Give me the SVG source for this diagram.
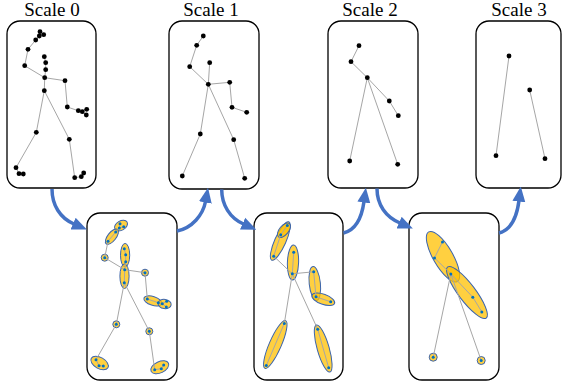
<svg xmlns="http://www.w3.org/2000/svg" xmlns:xlink="http://www.w3.org/1999/xlink" width="563" height="385" viewBox="0 0 563 385">
  <style>
    .frame { fill: #ffffff; stroke: #000000; stroke-width: 1.3; }
    .title { font-family: "Liberation Serif", "Times New Roman", serif; font-size: 19px; fill: #000000; text-anchor: middle; }
    .bone { fill: none; stroke: #a6a6a6; stroke-width: 1; stroke-linejoin: round; }
    .joint { fill: #000000; }
    .pt { fill: #0070c0; }
    .part { fill: #ffc000; fill-opacity: 0.75; stroke: #3b64ad; stroke-width: 1; }
    .flow { fill: none; stroke: #4472c4; stroke-width: 3.5; }
  </style>
  <defs>
    <marker id="ah" markerUnits="userSpaceOnUse" markerWidth="15" markerHeight="14" viewBox="0 0 15 13" refX="1" refY="6.5" orient="auto">
      <path d="M0,0 L15,6.5 L0,13 z" fill="#4472c4"/>
    </marker>
    <!-- skeleton bones, finest level -->
    <g id="bones0" class="bone">
      <polyline points="40,31.7 39.3,36"/>
      <polyline points="43.7,34.7 39.3,36 35.7,40 28,49.3 24.7,65.7 44.7,77.7 65,80.7 67.3,107 78.3,110.7 82.3,111.7 86.7,109.3"/>
      <polyline points="82.3,111.7 86.3,115"/>
      <polyline points="44.3,56.7 45.7,62.7 45.7,69.7 44.7,77.7 44.3,90.7"/>
      <polyline points="44.3,90.7 36.3,132.3 16,167.7 19,173.7 23.3,174"/>
      <polyline points="44.3,90.7 69.3,139.3 74.7,177.7 81.3,176.7 83.7,173"/>
    </g>
    <g id="bones1" class="bone">
      <polyline points="203.3,36 196.7,45.3 189.7,66.7 208.3,84.3"/>
      <polyline points="209.7,62.7 208.3,84.3"/>
      <polyline points="208.3,84.3 229.7,82.3 232,107.3 246.7,112.3"/>
      <polyline points="208.3,84.3 200.3,134 182.3,176"/>
      <polyline points="208.3,84.3 233.7,139.7 244.7,178.3"/>
    </g>
    <g id="bones2" class="bone">
      <polyline points="359,45.7 351,61.7 367.3,77.7 389.3,101 398.3,115.7"/>
      <polyline points="367.3,77.7 349.7,161"/>
      <polyline points="367.3,77.7 397.7,164.3"/>
    </g>
  </defs>

  <!-- Scale 0 -->
  <g id="scale0">
    <text class="title" x="52" y="16">Scale 0</text>
    <rect class="frame" x="7" y="21" width="89" height="167" rx="13"/>
    <use xlink:href="#bones0"/>
    <g class="joint">
      <circle cx="40" cy="31.7" r="2.4"/><circle cx="43.7" cy="34.7" r="2.4"/><circle cx="39.3" cy="36" r="2.4"/><circle cx="35.7" cy="40" r="2.4"/>
      <circle cx="28" cy="49.3" r="2.4"/><circle cx="24.7" cy="65.7" r="2.4"/>
      <circle cx="44.3" cy="56.7" r="2.4"/><circle cx="45.7" cy="62.7" r="2.4"/><circle cx="45.7" cy="69.7" r="2.4"/><circle cx="44.7" cy="77.7" r="2.4"/><circle cx="44.3" cy="90.7" r="2.4"/>
      <circle cx="65" cy="80.7" r="2.4"/><circle cx="67.3" cy="107" r="2.4"/><circle cx="78.3" cy="110.7" r="2.4"/><circle cx="82.3" cy="111.7" r="2.4"/><circle cx="86.7" cy="109.3" r="2.4"/><circle cx="86.3" cy="115" r="2.4"/>
      <circle cx="36.3" cy="132.3" r="2.4"/><circle cx="16" cy="167.7" r="2.4"/><circle cx="19" cy="173.7" r="2.4"/><circle cx="23.3" cy="174" r="2.4"/>
      <circle cx="69.3" cy="139.3" r="2.4"/><circle cx="74.7" cy="177.7" r="2.4"/><circle cx="81.3" cy="176.7" r="2.4"/><circle cx="83.7" cy="173" r="2.4"/>
    </g>
  </g>

  <!-- Scale 1 -->
  <g id="scale1">
    <text class="title" x="211" y="16">Scale 1</text>
    <rect class="frame" x="169" y="21" width="90" height="168" rx="13"/>
    <use xlink:href="#bones1"/>
    <g class="joint">
      <circle cx="203.3" cy="36" r="2.4"/><circle cx="196.7" cy="45.3" r="2.4"/><circle cx="189.7" cy="66.7" r="2.4"/><circle cx="209.7" cy="62.7" r="2.4"/>
      <circle cx="208.3" cy="84.3" r="2.4"/><circle cx="229.7" cy="82.3" r="2.4"/><circle cx="232" cy="107.3" r="2.4"/><circle cx="246.7" cy="112.3" r="2.4"/>
      <circle cx="200.3" cy="134" r="2.4"/><circle cx="182.3" cy="176" r="2.4"/><circle cx="233.7" cy="139.7" r="2.4"/><circle cx="244.7" cy="178.3" r="2.4"/>
    </g>
  </g>

  <!-- Scale 2 -->
  <g id="scale2">
    <text class="title" x="370" y="16">Scale 2</text>
    <rect class="frame" x="328" y="21" width="90" height="167" rx="13"/>
    <use xlink:href="#bones2"/>
    <g class="joint">
      <circle cx="359" cy="45.7" r="2.4"/><circle cx="351" cy="61.7" r="2.4"/><circle cx="367.3" cy="77.7" r="2.4"/><circle cx="389.3" cy="101" r="2.4"/>
      <circle cx="398.3" cy="115.7" r="2.4"/><circle cx="349.7" cy="161" r="2.4"/><circle cx="397.7" cy="164.3" r="2.4"/>
    </g>
  </g>

  <!-- Scale 3 -->
  <g id="scale3">
    <text class="title" x="519" y="16">Scale 3</text>
    <rect class="frame" x="476" y="21" width="85" height="167" rx="13"/>
    <g class="bone">
      <polyline points="509,56 496,155.7"/>
      <polyline points="529.7,90 545,158.7"/>
    </g>
    <g class="joint">
      <circle cx="509" cy="56" r="2.4"/><circle cx="496" cy="155.7" r="2.4"/><circle cx="529.7" cy="90" r="2.4"/><circle cx="545" cy="158.7" r="2.4"/>
    </g>
  </g>

  <!-- Grouping 0 to 1 -->
  <g id="group01">
    <rect class="frame" x="87" y="213" width="90" height="167" rx="13"/>
    <g transform="translate(80,192)">
      <ellipse class="part" cx="41" cy="33.6" rx="7" ry="4.6" transform="rotate(-30 41 33.6)"/>
      <ellipse class="part" cx="31.9" cy="44.7" rx="9.2" ry="4.2" transform="rotate(-52 31.9 44.7)"/>
      <circle class="part" cx="24.7" cy="65.7" r="3.5"/>
      <ellipse class="part" cx="45.1" cy="63.2" rx="4.6" ry="11.8"/>
      <ellipse class="part" cx="44.5" cy="84.2" rx="4.6" ry="12.3"/>
      <circle class="part" cx="65" cy="80.7" r="3.5"/>
      <ellipse class="part" cx="72.8" cy="108.9" rx="9.3" ry="4.4" transform="rotate(18 72.8 108.9)"/>
      <ellipse class="part" cx="84.6" cy="112" rx="6.6" ry="4.6" transform="rotate(8 84.6 112)"/>
      <circle class="part" cx="36.3" cy="132.3" r="3.5"/>
      <circle class="part" cx="69.3" cy="139.3" r="3.5"/>
      <ellipse class="part" cx="19.6" cy="171" rx="9.6" ry="5.6" transform="rotate(30 19.6 171)"/>
      <ellipse class="part" cx="79.8" cy="175.3" rx="9.6" ry="5.6" transform="rotate(-25 79.8 175.3)"/>
      <use xlink:href="#bones0"/>
      <g class="pt">
        <circle cx="40" cy="31.7" r="1.5"/><circle cx="43.7" cy="34.7" r="1.5"/><circle cx="39.3" cy="36" r="1.5"/><circle cx="35.7" cy="40" r="1.5"/>
        <circle cx="28" cy="49.3" r="1.5"/><circle cx="24.7" cy="65.7" r="1.5"/>
        <circle cx="44.3" cy="56.7" r="1.5"/><circle cx="45.7" cy="62.7" r="1.5"/><circle cx="45.7" cy="69.7" r="1.5"/><circle cx="44.7" cy="77.7" r="1.5"/><circle cx="44.3" cy="90.7" r="1.5"/>
        <circle cx="65" cy="80.7" r="1.5"/><circle cx="67.3" cy="107" r="1.5"/><circle cx="78.3" cy="110.7" r="1.5"/><circle cx="82.3" cy="111.7" r="1.5"/><circle cx="86.7" cy="109.3" r="1.5"/><circle cx="86.3" cy="115" r="1.5"/>
        <circle cx="36.3" cy="132.3" r="1.5"/><circle cx="16" cy="167.7" r="1.5"/><circle cx="19" cy="173.7" r="1.5"/><circle cx="23.3" cy="174" r="1.5"/>
        <circle cx="69.3" cy="139.3" r="1.5"/><circle cx="74.7" cy="177.7" r="1.5"/><circle cx="81.3" cy="176.7" r="1.5"/><circle cx="83.7" cy="173" r="1.5"/>
      </g>
    </g>
  </g>

  <!-- Grouping 1 to 2 -->
  <g id="group12">
    <rect class="frame" x="254" y="213" width="89" height="167" rx="13"/>
    <g transform="translate(84,189.5)">
      <ellipse class="part" cx="196.3" cy="51.5" rx="21" ry="5.6" transform="rotate(-66 196.3 51.5)"/>
      <ellipse class="part" cx="200" cy="40.7" rx="8.6" ry="4.6" transform="rotate(-50 200 40.7)"/>
      <ellipse class="part" cx="209" cy="73" rx="17.5" ry="5.6" transform="rotate(92 209 73)"/>
      <ellipse class="part" cx="230.8" cy="94" rx="17" ry="5.6" transform="rotate(84 230.8 94)"/>
      <ellipse class="part" cx="239.3" cy="109.8" rx="12" ry="5" transform="rotate(19.6 239.3 109.8)"/>
      <ellipse class="part" cx="191.3" cy="155" rx="26" ry="6" transform="rotate(-66.5 191.3 155)"/>
      <ellipse class="part" cx="239.2" cy="159" rx="24.5" ry="6" transform="rotate(74 239.2 159)"/>
      <use xlink:href="#bones1"/>
      <g class="pt">
        <circle cx="203.3" cy="36" r="1.5"/><circle cx="196.7" cy="45.3" r="1.5"/><circle cx="189.7" cy="66.7" r="1.5"/><circle cx="209.7" cy="62.7" r="1.5"/>
        <circle cx="208.3" cy="84.3" r="1.5"/><circle cx="229.7" cy="82.3" r="1.5"/><circle cx="232" cy="107.3" r="1.5"/><circle cx="246.7" cy="112.3" r="1.5"/>
        <circle cx="200.3" cy="134" r="1.5"/><circle cx="182.3" cy="176" r="1.5"/><circle cx="233.7" cy="139.7" r="1.5"/><circle cx="244.7" cy="178.3" r="1.5"/>
      </g>
    </g>
  </g>

  <!-- Grouping 2 to 3 -->
  <g id="group23">
    <rect class="frame" x="409" y="213" width="90" height="167" rx="13"/>
    <g transform="translate(83.5,196.2)">
      <ellipse class="part" cx="359.5" cy="60.5" rx="28.6" ry="9.8" transform="rotate(60 359.5 60.5)"/>
      <ellipse class="part" cx="383.5" cy="96.3" rx="32" ry="8.5" transform="rotate(53 383.5 96.3)"/>
      <circle class="part" cx="349.7" cy="161" r="4"/>
      <circle class="part" cx="397.7" cy="164.3" r="4"/>
      <use xlink:href="#bones2"/>
      <g class="pt">
        <circle cx="359" cy="45.7" r="1.5"/><circle cx="351" cy="61.7" r="1.5"/><circle cx="367.3" cy="77.7" r="1.5"/><circle cx="389.3" cy="101" r="1.5"/>
        <circle cx="398.3" cy="115.7" r="1.5"/><circle cx="349.7" cy="161" r="1.5"/><circle cx="397.7" cy="164.3" r="1.5"/>
      </g>
    </g>
  </g>

  <!-- coarsening flow -->
  <g id="connectors">
    <path class="flow" d="M52,189 C52,205 60,218 74,224" marker-end="url(#ah)"/>
    <path class="flow" d="M177,231 C192,228 203,215 205.5,201.5" marker-end="url(#ah)"/>
    <path class="flow" d="M221.7,189.5 C221.7,205 230,218 243.5,224" marker-end="url(#ah)"/>
    <path class="flow" d="M343.5,233 C356,230 362,216 364,201.5" marker-end="url(#ah)"/>
    <path class="flow" d="M377,188.5 C377,205 386,217 400,223" marker-end="url(#ah)"/>
    <path class="flow" d="M499,233 C511,230 517,216 519,200.5" marker-end="url(#ah)"/>
  </g>
</svg>
